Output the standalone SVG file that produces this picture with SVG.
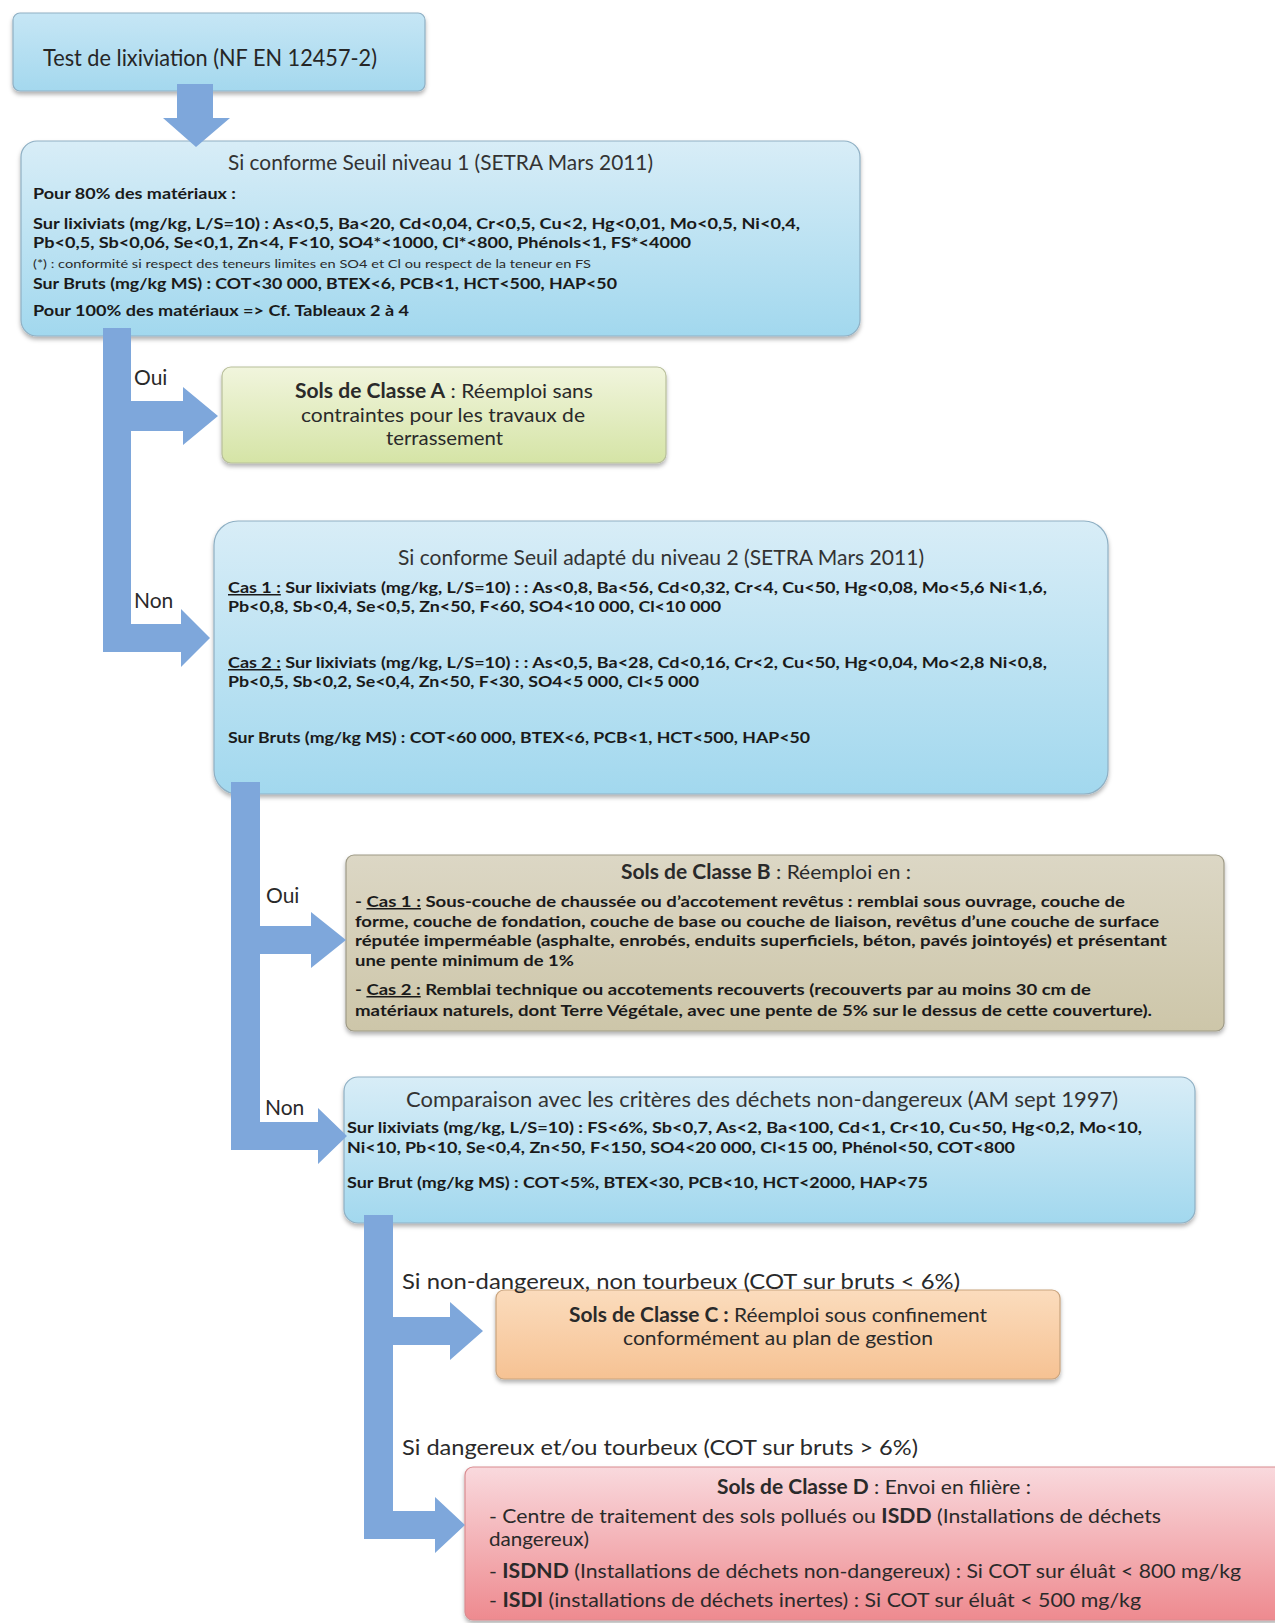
<svg xmlns="http://www.w3.org/2000/svg" width="1275" height="1623" viewBox="0 0 1275 1623">
<defs>
<linearGradient id="gBlue" x1="0" y1="0" x2="0" y2="1"><stop offset="0" stop-color="#d8edf7"/><stop offset="1" stop-color="#a2d8ee"/></linearGradient>
<linearGradient id="gBlue1" x1="0" y1="0" x2="0" y2="1"><stop offset="0" stop-color="#c6e6f5"/><stop offset="1" stop-color="#a4d8ee"/></linearGradient>
<linearGradient id="gA" x1="0" y1="0" x2="0" y2="1"><stop offset="0" stop-color="#f1f5dd"/><stop offset="1" stop-color="#d5e4a6"/></linearGradient>
<linearGradient id="gB" x1="0" y1="0" x2="0" y2="1"><stop offset="0" stop-color="#dcd7c5"/><stop offset="1" stop-color="#cdc6a9"/></linearGradient>
<linearGradient id="gC" x1="0" y1="0" x2="0" y2="1"><stop offset="0" stop-color="#fbdcbd"/><stop offset="1" stop-color="#f6c293"/></linearGradient>
<linearGradient id="gD" x1="0" y1="0" x2="0" y2="1"><stop offset="0" stop-color="#f9d9dd"/><stop offset="1" stop-color="#ee8a8f"/></linearGradient>
<filter id="sh" x="-5%" y="-10%" width="110%" height="125%"><feDropShadow dx="0" dy="3" stdDeviation="2" flood-color="#000" flood-opacity="0.3"/></filter>
</defs>
<style>
.box{stroke-width:1.2;filter:url(#sh)}
.bl{stroke:#8fb0c4}
text{font-family:"Lato","Liberation Sans",sans-serif;fill:#262626}
.t{font-size:22px;fill:#333}
.b{font-weight:bold;font-size:15px;fill:#1a1a1a}
.n{font-size:20px;fill:#2a2a2a}
.lbl{font-size:21px;fill:#2a2a2a}
.s{font-size:10.5px;fill:#2a2a2a}
.k{font-weight:bold}
.u{text-decoration:underline}
.arrow{fill:#7ea7db}
</style>
<rect width="1275" height="1623" fill="#ffffff"/>

<g id="n-test">
<rect class="box bl" x="13" y="13" width="412" height="78" rx="7" fill="url(#gBlue1)"/>
<text x="43" y="66" font-size="24" textLength="334" lengthAdjust="spacingAndGlyphs" fill="#333">Test de lixiviation (NF EN 12457-2)</text>
</g>

<g id="n-niveau1">
<rect class="box bl" x="21" y="141" width="839" height="195" rx="16" fill="url(#gBlue)"/>
<text class="t" x="228" y="170" textLength="425" lengthAdjust="spacingAndGlyphs">Si conforme Seuil niveau 1 (SETRA Mars 2011)</text>
<text class="b" x="33" y="199" textLength="203" lengthAdjust="spacingAndGlyphs">Pour 80% des matériaux :</text>
<text class="b" x="33" y="229" textLength="767" lengthAdjust="spacingAndGlyphs">Sur lixiviats (mg/kg, L/S=10) : As&lt;0,5, Ba&lt;20, Cd&lt;0,04, Cr&lt;0,5, Cu&lt;2, Hg&lt;0,01, Mo&lt;0,5, Ni&lt;0,4,</text>
<text class="b" x="33" y="248" textLength="658" lengthAdjust="spacingAndGlyphs">Pb&lt;0,5, Sb&lt;0,06, Se&lt;0,1, Zn&lt;4, F&lt;10, SO4*&lt;1000, Cl*&lt;800, Phénols&lt;1, FS*&lt;4000</text>
<text class="s" x="33" y="268" textLength="558" lengthAdjust="spacingAndGlyphs">(*) : conformité si respect des teneurs limites en SO4 et Cl ou respect de la teneur en FS</text>
<text class="b" x="33" y="289" textLength="584" lengthAdjust="spacingAndGlyphs">Sur Bruts  (mg/kg MS) : COT&lt;30 000, BTEX&lt;6, PCB&lt;1, HCT&lt;500, HAP&lt;50</text>
<text class="b" x="33" y="316" textLength="376" lengthAdjust="spacingAndGlyphs">Pour 100% des matériaux =&gt; Cf. Tableaux 2 à 4</text>
</g>

<g id="n-classeA">
<rect class="box" x="222" y="367" width="444" height="96" rx="9" fill="url(#gA)" stroke="#b8bf9a"/>
<text class="n" x="295" y="398" textLength="298" lengthAdjust="spacingAndGlyphs"><tspan class="k">Sols de Classe  A</tspan> : Réemploi  sans</text>
<text class="n" x="301" y="422" textLength="284" lengthAdjust="spacingAndGlyphs">contraintes pour les travaux de</text>
<text class="n" x="386" y="445" textLength="117" lengthAdjust="spacingAndGlyphs">terrassement</text>
</g>

<g id="n-niveau2">
<rect class="box bl" x="214" y="521" width="894" height="273" rx="24" fill="url(#gBlue)"/>
<text class="t" x="398" y="565" textLength="526" lengthAdjust="spacingAndGlyphs">Si conforme Seuil  adapté du niveau 2 (SETRA Mars 2011)</text>
<text class="b" x="228" y="593" textLength="819" lengthAdjust="spacingAndGlyphs"><tspan class="u">Cas 1 :</tspan> Sur lixiviats (mg/kg, L/S=10) : : As&lt;0,8, Ba&lt;56, Cd&lt;0,32, Cr&lt;4, Cu&lt;50, Hg&lt;0,08, Mo&lt;5,6 Ni&lt;1,6,</text>
<text class="b" x="228" y="612" textLength="493" lengthAdjust="spacingAndGlyphs">Pb&lt;0,8, Sb&lt;0,4, Se&lt;0,5, Zn&lt;50, F&lt;60, SO4&lt;10 000, Cl&lt;10 000</text>
<text class="b" x="228" y="668" textLength="819" lengthAdjust="spacingAndGlyphs"><tspan class="u">Cas 2 :</tspan> Sur lixiviats (mg/kg, L/S=10) : : As&lt;0,5, Ba&lt;28, Cd&lt;0,16, Cr&lt;2, Cu&lt;50, Hg&lt;0,04, Mo&lt;2,8 Ni&lt;0,8,</text>
<text class="b" x="228" y="687" textLength="471" lengthAdjust="spacingAndGlyphs">Pb&lt;0,5, Sb&lt;0,2, Se&lt;0,4, Zn&lt;50, F&lt;30, SO4&lt;5 000, Cl&lt;5 000</text>
<text class="b" x="228" y="743" textLength="582" lengthAdjust="spacingAndGlyphs">Sur Bruts  (mg/kg MS) : COT&lt;60 000, BTEX&lt;6, PCB&lt;1, HCT&lt;500, HAP&lt;50</text>
</g>

<g id="n-classeB">
<rect class="box" x="346" y="855" width="878" height="176" rx="8" fill="url(#gB)" stroke="#9e9a86"/>
<text class="n" x="621" y="879" textLength="290" lengthAdjust="spacingAndGlyphs"><tspan class="k">Sols de Classe  B</tspan> : Réemploi  en :</text>
<text class="b" x="355" y="907" textLength="770" lengthAdjust="spacingAndGlyphs">- <tspan class="u">Cas 1 :</tspan> Sous-couche de chaussée ou d’accotement revêtus  : remblai sous ouvrage, couche de</text>
<text class="b" x="355" y="927" textLength="804" lengthAdjust="spacingAndGlyphs">forme, couche de fondation, couche de base ou couche de liaison,  revêtus d’une couche de surface</text>
<text class="b" x="355" y="946" textLength="812" lengthAdjust="spacingAndGlyphs">réputée imperméable (asphalte, enrobés, enduits superficiels, béton, pavés jointoyés) et présentant</text>
<text class="b" x="355" y="966" textLength="219" lengthAdjust="spacingAndGlyphs">une pente minimum  de 1%</text>
<text class="b" x="355" y="995" textLength="736" lengthAdjust="spacingAndGlyphs">- <tspan class="u">Cas 2 :</tspan> Remblai technique ou accotements recouverts (recouverts par au moins 30 cm de</text>
<text class="b" x="355" y="1016" textLength="797" lengthAdjust="spacingAndGlyphs">matériaux naturels, dont Terre Végétale, avec une pente de 5% sur le dessus de cette couverture).</text>
</g>

<g id="n-comparaison">
<rect class="box bl" x="344" y="1077" width="851" height="146" rx="14" fill="url(#gBlue)"/>
<text class="t" x="406" y="1107" textLength="712" lengthAdjust="spacingAndGlyphs">Comparaison avec les critères des déchets non-dangereux  (AM sept 1997)</text>
<text class="b" x="347" y="1133" textLength="795" lengthAdjust="spacingAndGlyphs">Sur lixiviats (mg/kg, L/S=10) : FS&lt;6%, Sb&lt;0,7, As&lt;2, Ba&lt;100, Cd&lt;1, Cr&lt;10, Cu&lt;50, Hg&lt;0,2, Mo&lt;10,</text>
<text class="b" x="347" y="1153" textLength="668" lengthAdjust="spacingAndGlyphs">Ni&lt;10, Pb&lt;10, Se&lt;0,4, Zn&lt;50, F&lt;150, SO4&lt;20 000, Cl&lt;15 00, Phénol&lt;50, COT&lt;800</text>
<text class="b" x="347" y="1188" textLength="581" lengthAdjust="spacingAndGlyphs">Sur Brut (mg/kg MS) : COT&lt;5%, BTEX&lt;30, PCB&lt;10, HCT&lt;2000, HAP&lt;75</text>
</g>

<g id="n-classeC">
<rect class="box" x="496" y="1290" width="564" height="89" rx="8" fill="url(#gC)" stroke="#c9a47e"/>
<text class="n" x="569" y="1322" textLength="418" lengthAdjust="spacingAndGlyphs"><tspan class="k">Sols de Classe  C :</tspan> Réemploi sous confinement</text>
<text class="n" x="623" y="1345" textLength="310" lengthAdjust="spacingAndGlyphs">conformément au plan de gestion</text>
</g>

<g id="n-classeD">
<rect class="box" x="465" y="1467" width="818" height="153" rx="8" fill="url(#gD)" stroke="#d98c90"/>
<text class="n" x="717" y="1494" textLength="314" lengthAdjust="spacingAndGlyphs"><tspan class="k">Sols de Classe  D</tspan> : Envoi en filière :</text>
<text class="n" x="489" y="1523" textLength="672" lengthAdjust="spacingAndGlyphs">- Centre de traitement  des sols pollués ou <tspan class="k">ISDD</tspan> (Installations de déchets</text>
<text class="n" x="489" y="1546" textLength="100" lengthAdjust="spacingAndGlyphs">dangereux)</text>
<text class="n" x="489" y="1578" textLength="752" lengthAdjust="spacingAndGlyphs">- <tspan class="k">ISDND</tspan> (Installations de déchets non-dangereux)  : Si COT sur éluât &lt; 800 mg/kg</text>
<text class="n" x="489" y="1607" textLength="652" lengthAdjust="spacingAndGlyphs">- <tspan class="k">ISDI</tspan> (installations de déchets  inertes)  : Si COT sur éluât &lt; 500 mg/kg</text>
</g>

<g id="connectors">
<path class="arrow" d="M177,84 H213 V118 H230 L196,147 L163,118 H177 Z"/>
<path class="arrow" d="M103,328 H131 V401 H183 V387 L218,416 L183,445 V431 H131 V624 H181 V609 L210,638 L181,667 V652 H103 Z"/>
<path class="arrow" d="M231,782 H260 V926 H311 V912 L346,940 L311,968 V954 H260 V1122 H318 V1108 L347,1136 L318,1164 V1150 H231 Z"/>
<path class="arrow" d="M364,1215 H393 V1317 H450 V1302 L483,1331 L450,1360 V1345 H393 V1511 H435 V1497 L465,1525 L435,1553 V1539 H364 Z"/>
<text class="lbl" x="134" y="385">Oui</text>
<text class="lbl" x="134" y="608">Non</text>
<text class="lbl" x="266" y="903">Oui</text>
<text class="lbl" x="265" y="1115">Non</text>
<text class="lbl" x="402" y="1289" font-size="22" textLength="558" lengthAdjust="spacingAndGlyphs">Si non-dangereux, non tourbeux  (COT sur bruts &lt; 6%)</text>
<text class="lbl" x="402" y="1455" font-size="22" textLength="516" lengthAdjust="spacingAndGlyphs">Si dangereux et/ou tourbeux (COT sur bruts &gt; 6%)</text>
</g>
</svg>
